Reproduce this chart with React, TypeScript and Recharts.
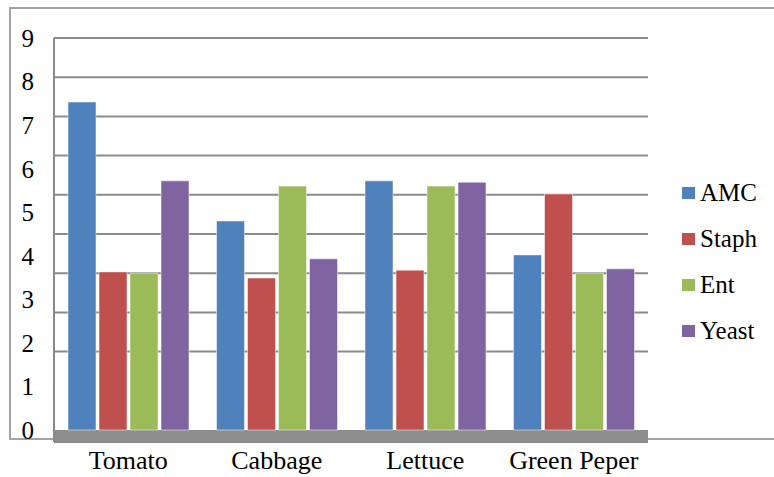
import { BarChart, Bar, XAxis, YAxis, CartesianGrid, Legend, ReferenceArea } from "recharts";

const CATEGORIES = ["Tomato", "Cabbage", "Lettuce", "Green Peper"];
const AMC = [7.53, 4.8, 5.72, 4.02];
const STAPH = [3.63, 3.49, 3.67, 5.42];
const ENT = [3.6, 5.6, 5.6, 3.6];
const YEAST = [5.72, 3.93, 5.69, 3.7];

const LABEL_TICKS = [0, 1, 2, 3, 4, 5, 6, 7, 8, 9];
const MARK_TICKS = [1, 2, 3, 4, 5, 6, 7, 8, 9, 10];
const GRID_TICKS = [2, 3, 4, 5, 6, 7, 8, 9, 10];

const SERIES = [
  { key: "AMC", color: "#4f81bd" },
  { key: "Staph", color: "#c0504d" },
  { key: "Ent", color: "#9bbb59" },
  { key: "Yeast", color: "#8064a2" },
];

const data = CATEGORIES.map((name, i) => ({
  name,
  AMC: AMC[i],
  Staph: STAPH[i],
  Ent: ENT[i],
  Yeast: YEAST[i],
}));

const FONT = '"Liberation Serif", "Times New Roman", serif';
const GRID_COLOR = "#8a8a8a";

function LegendBox() {
  return (
    <div style={{ display: "flex", flexDirection: "column", fontFamily: FONT, fontSize: 25, color: "#000" }}>
      {SERIES.map((s) => (
        <div key={s.key} style={{ display: "flex", alignItems: "center", height: 46 }}>
          <span style={{ width: 13, height: 12, background: s.color, marginRight: 5, display: "inline-block" }} />
          <span>{s.key}</span>
        </div>
      ))}
    </div>
  );
}

export default function App() {
  return (
    <div style={{ position: "fixed", left: 0, top: 0, width: 774, height: 477, overflow: "hidden", background: "#fff" }}>
      <div
        style={{
          position: "absolute",
          left: 9,
          top: 7,
          width: 820,
          height: 429,
          border: "2px solid #a3a3a3",
        }}
      />
      <div style={{ position: "absolute", left: 0, top: 0 }}>
        <BarChart
          width={774}
          height={477}
          data={data}
          margin={{ top: 38, right: 34, left: 0, bottom: 5 }}
          barSize={28}
          barGap={3}
        >
          <YAxis
            yAxisId="g"
            orientation="left"
            width={8}
            domain={[-0.306, 10]}
            ticks={MARK_TICKS}
            type="number"
            tick={false}
            tickSize={7}
            tickLine={{ stroke: GRID_COLOR, strokeWidth: 2 }}
            axisLine={{ stroke: GRID_COLOR, strokeWidth: 2 }}
            allowDataOverflow
          />
          <YAxis
            yAxisId="v"
            orientation="left"
            width={46}
            domain={[-0.275, 9]}
            ticks={LABEL_TICKS}
            type="number"
            tickSize={0}
            tickMargin={12}
            axisLine={false}
            tickLine={false}
            tick={{ fill: "#000", fontSize: 25, fontFamily: FONT }}
            allowDataOverflow
          />
          <YAxis yAxisId="gl" hide width={0} domain={[-0.306, 10]} ticks={GRID_TICKS} type="number" allowDataOverflow />
          <CartesianGrid yAxisId="gl" vertical={false} stroke={GRID_COLOR} strokeWidth={2} />
          <XAxis
            dataKey="name"
            height={30}
            axisLine={false}
            tickLine={false}
            tickSize={0}
            tickMargin={9}
            tick={{ fill: "#000", fontSize: 26, fontFamily: FONT }}
          />
          <ReferenceArea yAxisId="v" y1={-0.275} y2={0} fill="#8e8e8e" fillOpacity={1} stroke="none" />
          {SERIES.map((s) => (
            <Bar
              key={s.key}
              yAxisId="v"
              dataKey={s.key}
              fill={s.color}
              stroke="#ffffff"
              strokeOpacity={0.5}
              strokeWidth={1}
              isAnimationActive={false}
            />
          ))}
          <Legend
            layout="horizontal"
            verticalAlign="middle"
            align="right"
            content={() => <LegendBox />}
            wrapperStyle={{ left: 682, top: 170, width: 92 }}
          />
        </BarChart>
      </div>
    </div>
  );
}
